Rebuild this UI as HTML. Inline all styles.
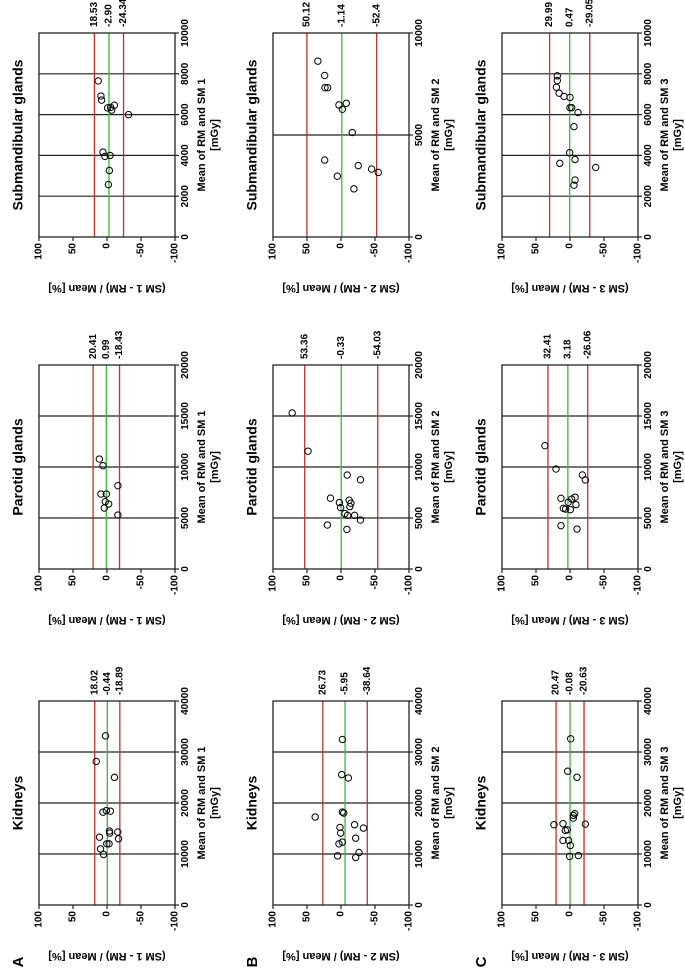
<!DOCTYPE html>
<html><head><meta charset="utf-8"><style>
html,body{margin:0;padding:0;background:#fff;}
svg{display:block;font-family:"Liberation Sans",Arial,sans-serif;}
text{font-weight:bold;fill:#000;}
</style></head><body>
<svg id="fig" width="685" height="980" viewBox="0 0 685 980">
<g id="root" transform="translate(0,980) rotate(-90)"></g>
</svg>
<script>
// ---- data (mean in mGy, difference in %) ----
const kidA_mean=[33170,28150,25030,18200,18500,18400,14500,14100,14300,13000,13300,12000,12000,11000,9900];
const kidA_diff=[2.2,15.8,-11,6,1,-5,-3.6,-4,-15.8,-17,11,0.3,-3,9.5,5];
const kidA_lim=[18.02,-0.44,-18.89];
const parA_mean=[10780,10130,8170,7350,7350,6600,6370,5980,5290];
const parA_diff=[11.3,5.9,-16,8.9,1,2.5,-2.5,4,-16];
const parA_lim=[20.41,0.99,-18.43];
const subA_mean=[7650,6910,6710,6330,6350,6460,6220,6000,4160,3950,4000,3260,2570];
const subA_diff=[12.9,8.9,7.9,-1,-5.4,-10.9,-6.9,-31.7,5.9,3,-4.5,-3.5,-2];
const subA_lim=[18.53,-2.90,-24.34];
const kidB_mean=[32460,25570,24920,18230,18030,17250,15740,15080,15210,14100,13110,12330,12000,10300,9310,9640];
const kidB_diff=[-2,-1,-10.8,-2,-4,38,-20,-33,1.5,0.5,-21.6,-2,3,-26.5,-21.6,5];
const kidB_lim=[26.73,-5.95,-38.64];
const parB_mean=[15300,11550,9210,8750,6940,6740,6510,6450,6120,6020,5430,5260,5260,4800,4310,3880];
const parB_diff=[71.8,48.5,-9.2,-28.6,15.5,-12,2.4,-14.6,-13,0.5,-5.8,-9.7,-20,-28.6,20,-8.7];
const parB_lim=[53.36,-0.33,-54.03];
const subB_mean=[8620,7920,7320,7320,6470,6550,6260,5120,3770,3500,3330,3170,2980,2360];
const subB_diff=[34,24,23.5,19.6,3,-7.8,-2,-16.6,24,-25.4,-45,-54.8,5.4,-19];
const subB_lim=[50.12,-1.14,-52.4];
const kidC_mean=[32590,26230,25050,17900,17570,17050,15740,15930,15870,14620,14750,12660,12660,11670,9510,9700];
const kidC_diff=[-1,3.4,-10.3,-6.9,-4.9,-4.9,23.6,10.3,-22.6,6.9,3.9,10.3,2,-0.5,0.5,-12.3];
const kidC_lim=[20.47,-0.08,-20.63];
const parC_mean=[12090,9800,9220,8730,6930,7030,6860,6540,6310,5950,5880,5820,4250,3920];
const parC_diff=[36.9,20.6,-18.2,-22.6,13.3,-7.4,-2.5,2.5,-8.8,9.8,6.4,-0.5,13.3,-10.3];
const parC_lim=[32.41,3.18,-26.06];
const subC_mean=[7900,7670,7340,7050,6890,6840,6340,6340,6100,5410,4130,3610,3800,3410,2790,2540];
const subC_diff=[18.7,18.7,20,16,8.8,0,0,-2.5,-11.8,-5.9,0.5,15,-7.4,-37.8,-7.4,-5.9];
const subC_lim=[29.99,0.47,-29.05];
const yTicks=[100,50,0,-50,-100];

const NS="http://www.w3.org/2000/svg";
const root=document.getElementById('root');
function el(tag,attrs,parent,txt){const e=document.createElementNS(NS,tag);for(const k in attrs)e.setAttribute(k,attrs[k]);if(txt!==undefined)e.textContent=txt;(parent||root).appendChild(e);return e;}

const colU=[75,411,743], rowV=[39,273,502], W=204, H=136;
const titles=["Kidneys","Parotid glands","Submandibular glands"];
const xMax=[40000,20000,10000];
const xTickSets=[[0,10000,20000,30000,40000],[0,5000,10000,15000,20000],[0,2000,4000,6000,8000,10000]];
const subBTicks=[0,5000,10000];
const data=[
 [[kidA_mean,kidA_diff,kidA_lim],[parA_mean,parA_diff,parA_lim],[subA_mean,subA_diff,subA_lim]],
 [[kidB_mean,kidB_diff,kidB_lim],[parB_mean,parB_diff,parB_lim],[subB_mean,subB_diff,subB_lim]],
 [[kidC_mean,kidC_diff,kidC_lim],[parC_mean,parC_diff,parC_lim],[subC_mean,subC_diff,subC_lim]]
];
const letters=["A","B","C"];

for(let r=0;r<3;r++){
  const L=el('text',{x:18,y:rowV[r]-20,'font-size':15,'text-anchor':'middle','dominant-baseline':'middle'},root,letters[r]);
  
  
  for(let c=0;c<3;c++){
    const u0=colU[c], v0=rowV[r], n=r+1;
    const g=el('g',{});
    
    
    const xm=xMax[c];
    const ticks=(r===1&&c===2)?subBTicks:xTickSets[c];
    const xs=m=>u0+m/xm*W;
    const ys=d=>v0+(100-d)/200*H;
    // title
    const t=el('text',{x:u0+W/2,y:v0-20,'font-size':14,'text-anchor':'middle','dominant-baseline':'middle'},g,titles[c]);
    
    
    // grid lines
    ticks.forEach(tv=>{ if(tv>0&&tv<xm){ const gl=el('line',{x1:xs(tv),x2:xs(tv),y1:v0,y2:v0+H,stroke:'#222','stroke-width':1.2},g);
       }});
    // limit lines
    const [mean,diff,lim]=data[r][c];
    lim.forEach((lv,i)=>{
      const ln=el('line',{x1:u0,x2:u0+W,y1:ys(lv),y2:ys(lv),stroke:i===1?'#3cb83c':'#c0302c','stroke-width':1.3},g);
      
      
      const lt=el('text',{x:u0+W+6,y:ys(lv),'font-size':10,'dominant-baseline':'middle'},g,lv.toFixed(2).replace(/\.?0+$/,m=>m.startsWith('.')&&m.length>1&&lv.toFixed(2).endsWith('0')&&false?'':m));
      lt.textContent=['18.53','-2.90'].includes(lv.toFixed(2))?lv.toFixed(2):String(lv);
      
      
    });
    // frame
    const fr=el('rect',{x:u0,y:v0,width:W,height:H,fill:'none',stroke:'#222','stroke-width':1.3},g);
     
    // y ticks
    yTicks.forEach(tv=>{
      el('line',{x1:u0-4,x2:u0,y1:ys(tv),y2:ys(tv),stroke:'#222','stroke-width':1.2},g);
      const yl=el('text',{x:u0-6,y:ys(tv),'font-size':10,'text-anchor':'end','dominant-baseline':'middle'},g,String(tv));
       
    });
    // x ticks
    ticks.forEach(tv=>{
      el('line',{x1:xs(tv),x2:xs(tv),y1:v0+H,y2:v0+H+4,stroke:'#222','stroke-width':1.2},g);
      const xl=el('text',{x:xs(tv),y:v0+H+13,'font-size':10,'text-anchor':'middle'},g,String(tv));
       
    });
    // axis titles
    const xt=el('text',{x:u0+W/2,y:v0+H+30,'font-size':11,'text-anchor':'middle'},g,'Mean of RM and SM '+n);
     
    const xu=el('text',{x:u0+W/2,y:v0+H+43,'font-size':11,'text-anchor':'middle'},g,'[mGy]');
     
    const yt=el('text',{x:0,y:0,'font-size':11,'text-anchor':'middle',transform:`translate(${u0-48},${v0+H/2}) rotate(-90)`},g,'(SM '+n+' - RM) / Mean [%]');
     
    // points
    mean.forEach((m,i)=>{
      const p=el('circle',{cx:xs(m),cy:ys(diff[i]),r:3.2,fill:'none',stroke:'#000','stroke-width':1},g);
      
      
    });
  }
}
</script>
</body></html>
